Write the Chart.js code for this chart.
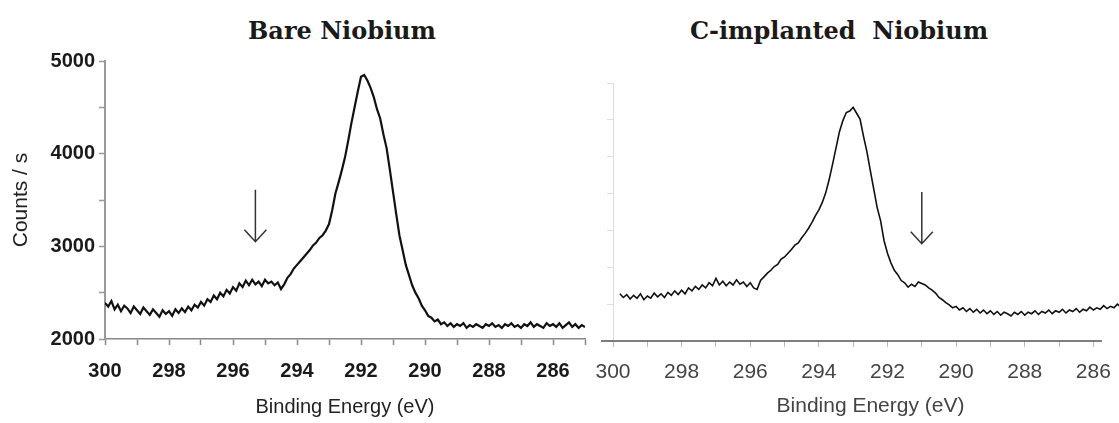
<!DOCTYPE html>
<html lang="en">
<head>
<meta charset="UTF-8">
<title>C 1s spectra – Bare vs C-implanted Niobium</title>
<script src="https://cdn.jsdelivr.net/npm/chart.js"></script>
<style>
  body { margin: 0; background: #fff; width: 1119px; height: 423px; overflow: hidden; position: relative; }
  .panel { position: absolute; top: 0; }
  .title { position: absolute; top: 30px; transform: translate(-50%, -50%); font-family: "DejaVu Serif", serif; font-weight: bold; font-size: 24px; color: #1a1a1a; white-space: pre; }
</style>
</head>
<body>

<div class="title" style="left:342px">Bare Niobium</div>
<div class="title" style="left:839px">C-implanted  Niobium</div>

<div class="panel" style="left:0">
  <canvas id="bareChart" width="590" height="423"></canvas>
</div>
<div class="panel" style="left:590px">
  <canvas id="implChart" width="560" height="423"></canvas>
</div>

<script>
// binding energy grid: first channel and step (eV), scanned from high to low
const bareStart = 300.0;
const implStart = 299.8;
const energyStep = 0.1;

// counts per second, one value per channel
const bareCounts = [
  2390, 2350, 2410, 2320, 2370, 2300, 2360, 2330, 2280, 2350,
  2310, 2270, 2340, 2300, 2260, 2320, 2280, 2240, 2310, 2270,
  2300, 2250, 2320, 2280, 2330, 2290, 2350, 2310, 2370, 2340,
  2400, 2360, 2430, 2400, 2470, 2430, 2500, 2460, 2530, 2490,
  2560, 2520, 2600, 2560, 2630, 2580, 2640, 2590, 2620, 2570,
  2640, 2600, 2620, 2580, 2610, 2540, 2590, 2660, 2700, 2760,
  2800, 2840, 2880, 2920, 2960, 3010, 3040, 3090, 3120, 3170,
  3240, 3390, 3570, 3690, 3820, 3960, 4140, 4330, 4500, 4670,
  4830, 4850, 4790, 4710, 4610, 4480, 4380, 4210, 4060, 3830,
  3590, 3350, 3120, 2960, 2800, 2690, 2580, 2500, 2440, 2360,
  2310, 2250, 2230, 2190, 2210, 2160, 2180, 2140, 2170, 2130,
  2160, 2140, 2170, 2120, 2150, 2130, 2160, 2140, 2120, 2160,
  2140, 2170, 2130, 2150, 2120, 2160, 2140, 2170, 2130, 2150,
  2120, 2160, 2140, 2180, 2130, 2160, 2140, 2120, 2170, 2140,
  2160, 2130, 2170, 2120, 2150, 2180, 2130, 2160, 2120, 2150,
  2130
];

const implCounts = [
  2640, 2590, 2630, 2570, 2620, 2580, 2640, 2560, 2610, 2580,
  2650, 2600, 2640, 2590, 2660, 2620, 2680, 2630, 2690, 2640,
  2720, 2680, 2740, 2700, 2760, 2720, 2790, 2750, 2850, 2760,
  2810, 2750, 2800, 2760, 2830, 2770, 2800, 2740, 2790, 2720,
  2700, 2820, 2870, 2920, 2960, 3010, 3040, 3110, 3140, 3190,
  3240, 3300, 3330, 3400, 3460, 3530, 3610, 3700, 3780, 3880,
  4010, 4190, 4400, 4620, 4840, 4990, 5100, 5120, 5170, 5090,
  5010, 4780, 4570, 4310, 4060, 3810, 3630, 3360, 3190, 3060,
  2960, 2900, 2820, 2790, 2730, 2770, 2740, 2800, 2780, 2760,
  2720, 2690, 2650, 2590, 2560, 2520, 2490, 2450, 2470, 2420,
  2450, 2400, 2440, 2390, 2430, 2380, 2420, 2370, 2410, 2360,
  2400, 2350, 2390, 2370, 2340, 2390, 2360, 2400, 2350, 2390,
  2370, 2410, 2360, 2400, 2380, 2420, 2370, 2410, 2390, 2430,
  2380, 2420, 2400, 2440, 2390, 2430, 2410, 2460, 2420, 2450,
  2430, 2480, 2440, 2470, 2450, 2500, 2460, 2490, 2470, 2510,
  2480
];

// arrows: [energy, tail counts, tip counts]
const bareArrow = [295.3, 3610, 3050];
const implArrow = [291.0, 4020, 3320];
// drawn extent of the right-hand energy axis line (eV)
const implAxisSpan = [300.35, 285.75];

function toPoints(start, counts) {
  return counts.map((c, i) => ({ x: +(start - i * energyStep).toFixed(2), y: c }));
}

const evenLabel = v => (Number.isInteger(v) && v % 2 === 0 && v >= 286 && v <= 300) ? v : '';

// small downward arrow drawn in data space
const arrowPlugin = {
  id: 'arrow',
  afterDatasetsDraw(chart, args, opts) {
    const { ctx, scales: { x, y } } = chart;
    const [e, tail, tip] = opts.at;
    const px = x.getPixelForValue(e);
    const y0 = y.getPixelForValue(tail);
    const y1 = y.getPixelForValue(tip);
    ctx.save();
    ctx.strokeStyle = '#333';
    ctx.lineWidth = 1.5;
    ctx.beginPath();
    ctx.moveTo(px, y0);
    ctx.lineTo(px, y1);
    ctx.moveTo(px - 11, y1 - 12);
    ctx.lineTo(px, y1);
    ctx.lineTo(px + 11, y1 - 12);
    ctx.stroke();
    ctx.restore();
  }
};

// energy axis line that stops short of the plot edge
const axisLinePlugin = {
  id: 'axisLine',
  beforeDatasetsDraw(chart, args, opts) {
    if (!opts.span) return;
    const { ctx, scales: { x }, chartArea } = chart;
    ctx.save();
    ctx.strokeStyle = '#555';
    ctx.lineWidth = 1.5;
    ctx.beginPath();
    ctx.moveTo(x.getPixelForValue(opts.span[0]), chartArea.bottom);
    ctx.lineTo(x.getPixelForValue(opts.span[1]), chartArea.bottom);
    ctx.stroke();
    ctx.restore();
  }
};

const noSidePadding = s => { s.paddingLeft = 0; s.paddingRight = 0; };

Chart.defaults.font.family = '"Liberation Sans", Arial, sans-serif';

new Chart(document.getElementById('bareChart'), {
  type: 'line',
  data: {
    datasets: [{ data: toPoints(bareStart, bareCounts), borderColor: '#111', borderWidth: 2.2, pointRadius: 0, tension: 0 }]
  },
  options: {
    responsive: false,
    animation: false,
    devicePixelRatio: 1,
    layout: { padding: { top: 61, right: 5, left: 0, bottom: 0 } },
    plugins: { legend: { display: false }, tooltip: { enabled: false }, arrow: { at: bareArrow }, axisLine: {} },
    scales: {
      x: {
        type: 'linear', reverse: true, min: 285, max: 300,
        afterFit: s => { s.height = 84; noSidePadding(s); },
        ticks: { stepSize: 1, autoSkip: false, maxRotation: 0, includeBounds: false, callback: evenLabel,
                 color: '#1a1a1a', padding: 14, font: { size: 20, weight: 'bold' } },
        grid: { drawOnChartArea: false, tickLength: 6, color: '#888', tickWidth: 1.5 },
        border: { color: '#888', width: 1.5 },
        title: { display: true, text: 'Binding Energy (eV)', color: '#222', font: { size: 20 }, padding: { top: 0, bottom: 4 } }
      },
      y: {
        min: 2000, max: 5000,
        afterFit: s => { s.width = 105; },
        ticks: { stepSize: 500, callback: v => v % 1000 === 0 ? v : '', color: '#1a1a1a', padding: 4,
                 font: { size: 20, weight: 'bold' } },
        grid: { drawOnChartArea: false, tickLength: 6, color: '#999', tickWidth: 1.5 },
        border: { color: '#999', width: 2 },
        title: { display: true, text: 'Counts / s', color: '#222', font: { size: 21 }, padding: { top: 9, bottom: 0 } }
      }
    }
  },
  plugins: [arrowPlugin, axisLinePlugin]
});

new Chart(document.getElementById('implChart'), {
  type: 'line',
  data: {
    datasets: [{ data: toPoints(implStart, implCounts), borderColor: '#111', borderWidth: 1.6, pointRadius: 0, tension: 0 }]
  },
  options: {
    responsive: false,
    animation: false,
    devicePixelRatio: 1,
    layout: { padding: { top: 83, right: 10, left: 11, bottom: 0 } },
    plugins: { legend: { display: false }, tooltip: { enabled: false }, arrow: { at: implArrow }, axisLine: { span: implAxisSpan } },
    scales: {
      x: {
        type: 'linear', reverse: true, min: 284.64, max: 300.35,
        afterFit: s => { s.height = 82; noSidePadding(s); },
        ticks: { stepSize: 1, autoSkip: false, maxRotation: 0, includeBounds: false, callback: evenLabel,
                 color: '#444', padding: 13, font: { size: 21 } },
        grid: { drawOnChartArea: false, tickLength: 6, color: '#bbb' },
        border: { display: false },
        title: { display: true, text: 'Binding Energy (eV)', color: '#444', font: { size: 21 }, padding: { top: 0, bottom: 4 } }
      },
      y: {
        min: 2000, max: 5500,
        position: { x: 300 },
        ticks: { display: false, stepSize: 500 },
        grid: { drawOnChartArea: false, tickLength: 6, color: '#ddd' },
        border: { color: '#ddd', width: 1 }
      }
    }
  },
  plugins: [arrowPlugin, axisLinePlugin]
});
</script>
</body>
</html>
